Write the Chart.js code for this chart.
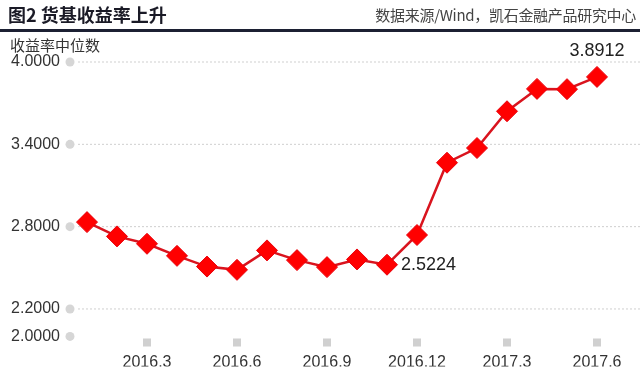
<!DOCTYPE html>
<html>
<head>
<meta charset="utf-8">
<script src="https://cdn.jsdelivr.net/npm/chart.js@4/dist/chart.umd.min.js"></script>
<style>
  body { margin: 0; background: #fff; }
  #wrap { position: relative; width: 640px; height: 373px; overflow: hidden; }
  #title { position: absolute; left: 8px; top: 3px; font: bold 18px "Noto Sans CJK SC", sans-serif; color: #1a1a26; line-height: 22px; }
  #source { position: absolute; right: 4px; top: 5px; font: 15px "Noto Sans CJK SC", sans-serif; color: #444; line-height: 20px; letter-spacing: -0.3px; }
  #rule { position: absolute; left: 0; top: 29px; width: 640px; height: 2.5px; background: #1c2033; }
  #unit { position: absolute; left: 10px; top: 35px; font: 15px "Noto Sans CJK SC", sans-serif; color: #333; line-height: 20px; }
  #box { position: absolute; left: 0; top: 0; width: 640px; height: 373px; }
</style>
</head>
<body>
<div id="wrap">
  <div id="box"><canvas id="myChart"></canvas></div>
  <div id="title">图2 货基收益率上升</div>
  <div id="source">数据来源/Wind，凯石金融产品研究中心</div>
  <div id="rule"></div>
  <div id="unit">收益率中位数</div>
</div>
<script>
// months 2016.1 - 2017.6
const months = ['2016.1','2016.2','2016.3','2016.4','2016.5','2016.6','2016.7','2016.8','2016.9','2016.10','2016.11','2016.12',
                '2017.1','2017.2','2017.3','2017.4','2017.5','2017.6'];
const yieldMedian = [2.833, 2.729, 2.675, 2.587, 2.509, 2.485, 2.627, 2.556, 2.505, 2.561, 2.5224, 2.739,
                     3.266, 3.373, 3.641, 3.804, 3.802, 3.8912];
const xTickShow = ['2016.3','2016.6','2016.9','2016.12','2017.3','2017.6'];
const yTicks = [2.0, 2.2, 2.8, 3.4, 4.0];
const labelled = ['2016.11', '2017.6'];

Chart.defaults.font.family = '"Liberation Sans", Arial, sans-serif';
Chart.defaults.color = '#333';

// dashed grid + grey dots on y axis
const decor = {
  id: 'decor',
  beforeDatasetsDraw(chart) {
    const ctx = chart.ctx;
    const ys = chart.scales.y;
    ctx.save();
    yTicks.forEach((v) => {
      let py = ys.getPixelForValue(v);
      if (v > 2.0) {
        ctx.strokeStyle = '#cfcfcf';
        ctx.lineWidth = 1;
        ctx.setLineDash([2, 2]);
        ctx.beginPath();
        ctx.moveTo(78, py);
        ctx.lineTo(640, py);
        ctx.stroke();
      }
      ctx.setLineDash([]);
      ctx.fillStyle = '#d6d6d6';
      ctx.beginPath();
      ctx.arc(70, py, 4.5, 0, Math.PI * 2);
      ctx.fill();
    });
    ctx.restore();
  },
  // grey squares above the x labels
  afterDraw(chart) {
    const ctx = chart.ctx;
    const xs = chart.scales.x;
    ctx.save();
    xTickShow.forEach((m) => {
      let px = xs.getPixelForValue(months.indexOf(m));
      ctx.fillStyle = '#d0d0d0';
      ctx.fillRect(px - 4, 338.5, 8, 8);
    });
    ctx.restore();
  }
};

const valueLabels = {
  id: 'valueLabels',
  afterDatasetsDraw(chart) {
    const ctx = chart.ctx;
    const meta = chart.getDatasetMeta(0);
    ctx.save();
    ctx.font = '18px "Liberation Sans", Arial, sans-serif';
    ctx.fillStyle = '#222';
    ctx.textBaseline = 'middle';
    labelled.forEach((m) => {
      let i = months.indexOf(m);
      let pt = meta.data[i];
      let txt = yieldMedian[i].toFixed(4);
      if (i == months.length - 1) {
        ctx.textAlign = 'center';
        ctx.fillText(txt, pt.x, pt.y - 26);
      } else {
        ctx.textAlign = 'left';
        ctx.fillText(txt, pt.x + 14, pt.y);
      }
    });
    ctx.restore();
  }
};

var ctx = document.getElementById('myChart').getContext('2d');
var myChart = new Chart(ctx, {
  type: 'line',
  data: {
    labels: months,
    datasets: [{
      data: yieldMedian,
      label: '收益率中位数',
      borderColor: '#d9141e',
      borderWidth: 2.5,
      backgroundColor: '#ff0000',
      pointStyle: 'rectRot',
      pointRadius: 10.5,
      pointBackgroundColor: '#ff0000',
      pointBorderColor: '#e8000b',
      pointBorderWidth: 1,
      tension: 0,
      fill: false,
      clip: false
    }]
  },
  options: {
    responsive: true,
    maintainAspectRatio: false,
    animation: false,
    layout: { padding: { top: 62, right: 43, bottom: 0, left: 0 } },
    plugins: { legend: { display: false }, tooltip: { enabled: false } },
    scales: {
      x: {
        type: 'category',
        offset: false,
        grid: { display: false, drawTicks: false },
        border: { display: false },
        afterFit(scale) { scale.height = 30; },
        ticks: {
          autoSkip: false,
          maxRotation: 0,
          padding: 17,
          color: '#333',
          font: { size: 16 },
          callback: function (v, i) { return xTickShow.includes(months[i]) ? months[i] : ''; }
        }
      },
      y: {
        min: 2.0,
        max: 4.0,
        grid: { display: false, drawTicks: false },
        border: { display: false },
        afterFit(scale) { scale.width = 87; },
        afterBuildTicks(scale) { scale.ticks = yTicks.map((v) => ({ value: v })); },
        ticks: {
          padding: 27,
          color: '#333',
          font: { size: 16 },
          callback: (v) => Number(v).toFixed(4)
        }
      }
    }
  },
  plugins: [decor, valueLabels]
});
</script>
</body>
</html>
